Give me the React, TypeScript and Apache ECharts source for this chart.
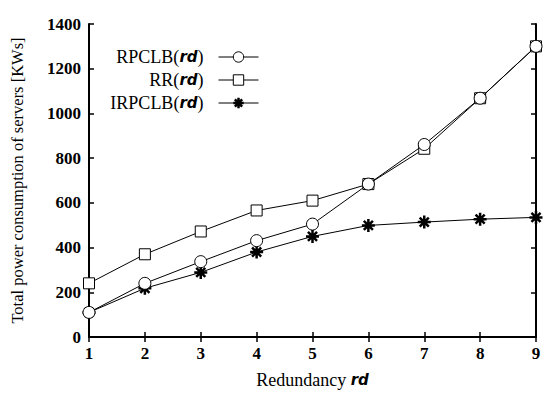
import React, { useEffect, useRef } from "react";
import * as echarts from "echarts";

const xValues = [1, 2, 3, 4, 5, 6, 7, 8, 9];
const rpclb = [110, 240, 337, 431, 505, 684, 861, 1068, 1300];
const rr = [240, 370, 472, 566, 610, 684, 842, 1068, 1300];
const irpclb = [110, 218, 289, 380, 450, 499, 514, 527, 535];

const STAR = "path://M0,-10L0,10M-10,0L10,0M-7,-7L7,7M-7,7L7,-7";
const SERIF = "Liberation Serif";

export default function App() {
  const ref = useRef<HTMLDivElement>(null);
  useEffect(() => {
    if (!ref.current) return;
    const chart = echarts.init(ref.current, undefined, { renderer: "svg" });
    const rich = {
      n: { fontFamily: SERIF, fontSize: 18, color: "#000" },
      i: { fontFamily: "DejaVu Sans", fontStyle: "italic", fontWeight: "bold", fontSize: 15, color: "#000" },
    };
    const pair = (a: number[]) => xValues.map((x, k) => [x, a[k]]);
    const legendBase = (name: string, top: number, bw: number) => ({
      data: [name],
      right: 287,
      top,
      align: "right",
      itemWidth: 40,
      itemHeight: 13,
      padding: 0,
      formatter: (n: string) => `{n|${n}(}{i|rd}{n|)}`,
      textStyle: { rich, fontSize: 18, padding: [0, 10, 0, 0] },
      lineStyle: { width: 1, color: "#000" },
      itemStyle: { borderWidth: bw },
    });
    const axisCommon = {
      axisLine: { show: true, lineStyle: { color: "#000", width: 2 } },
      axisTick: { show: true, inside: true, length: 5, lineStyle: { color: "#000", width: 1.5 } },
      splitLine: { show: false },
    };
    const labelStyle = {
      fontFamily: SERIF,
      fontWeight: "bold",
      fontSize: 17,
      color: "#000",
      margin: 8,
      formatter: (v: number) => String(v),
    };
    chart.setOption({
      animation: false,
      grid: { left: 89, right: 10, top: 24, bottom: 54 },
      legend: [
        legendBase("RPCLB", 48, 1),
        legendBase("RR", 71, 1),
        legendBase("IRPCLB", 94, 2.5),
      ],
      xAxis: [
        {
          type: "value",
          min: 1,
          max: 9,
          interval: 1,
          position: "bottom",
          ...axisCommon,
          axisLabel: labelStyle,
          name: "Redundancy {i|rd}",
          nameLocation: "middle",
          nameGap: 34,
          nameTextStyle: { fontFamily: SERIF, fontSize: 18, color: "#000", rich },
        },
        {
          type: "value",
          min: 1,
          max: 9,
          interval: 1,
          position: "top",
          ...axisCommon,
          axisLabel: { show: false },
        },
      ],
      yAxis: [
        {
          type: "value",
          min: 0,
          max: 1400,
          interval: 200,
          position: "left",
          ...axisCommon,
          axisLabel: labelStyle,
          name: "Total power consumption of servers [KWs]",
          nameLocation: "middle",
          nameGap: 63,
          nameTextStyle: { fontFamily: SERIF, fontSize: 16.5, color: "#000" },
        },
        {
          type: "value",
          min: 0,
          max: 1400,
          interval: 200,
          position: "right",
          ...axisCommon,
          axisLabel: { show: false },
        },
      ],
      series: [
        {
          name: "IRPCLB",
          type: "line",
          data: pair(irpclb),
          symbol: STAR,
          symbolSize: 13,
          z: 2,
          lineStyle: { color: "#000", width: 1 },
          itemStyle: { color: "#000", borderColor: "#000", borderWidth: 2.5 },
        },
        {
          name: "RR",
          type: "line",
          data: pair(rr),
          symbol: "rect",
          symbolSize: 11,
          z: 3,
          lineStyle: { color: "#000", width: 1 },
          itemStyle: { color: "#fff", borderColor: "#000", borderWidth: 1 },
        },
        {
          name: "RPCLB",
          type: "line",
          data: pair(rpclb),
          symbol: "circle",
          symbolSize: 12,
          z: 4,
          lineStyle: { color: "#000", width: 1 },
          itemStyle: { color: "#fff", borderColor: "#000", borderWidth: 1 },
        },
      ],
    });
    return () => chart.dispose();
  }, []);
  return <div ref={ref} style={{ width: 546, height: 394, position: "absolute", left: 0, top: 0 }} />;
}
